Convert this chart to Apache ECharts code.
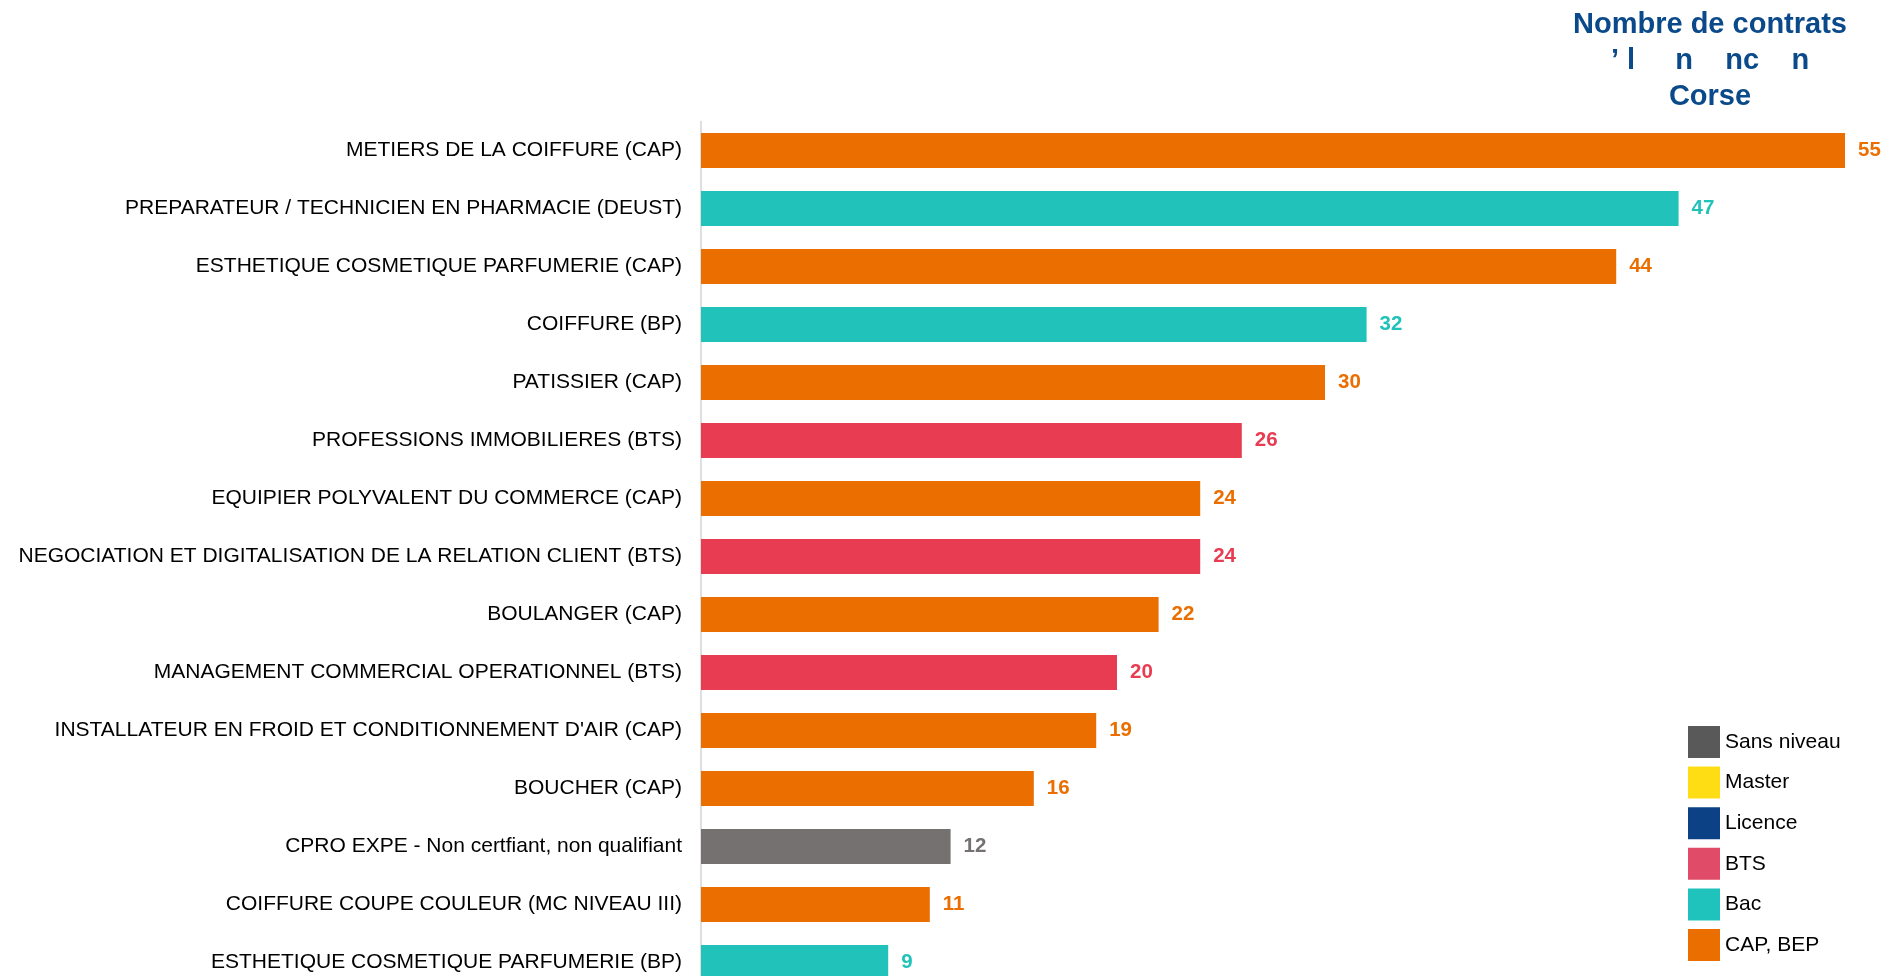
<!DOCTYPE html>
<html>
<head>
<meta charset="utf-8">
<script src="https://cdn.jsdelivr.net/npm/echarts@6/dist/echarts.min.js"></script>
<style>
  html, body { margin: 0; padding: 0; background: #fff; overflow: hidden; height: 976px; }
  #chart { width: 1885px; height: 992px; }
</style>
</head>
<body>
<div id="chart"></div>
<script>
// ---- Data ----
var categories = [
  "METIERS DE LA COIFFURE (CAP)",
  "PREPARATEUR / TECHNICIEN EN PHARMACIE (DEUST)",
  "ESTHETIQUE COSMETIQUE PARFUMERIE (CAP)",
  "COIFFURE (BP)",
  "PATISSIER (CAP)",
  "PROFESSIONS IMMOBILIERES (BTS)",
  "EQUIPIER POLYVALENT DU COMMERCE (CAP)",
  "NEGOCIATION ET DIGITALISATION DE LA RELATION CLIENT (BTS)",
  "BOULANGER (CAP)",
  "MANAGEMENT COMMERCIAL OPERATIONNEL (BTS)",
  "INSTALLATEUR EN FROID ET CONDITIONNEMENT D'AIR (CAP)",
  "BOUCHER (CAP)",
  "CPRO EXPE - Non certfiant, non qualifiant",
  "COIFFURE COUPE COULEUR (MC NIVEAU III)",
  "ESTHETIQUE COSMETIQUE PARFUMERIE (BP)"
];
var values = [55, 47, 44, 32, 30, 26, 24, 24, 22, 20, 19, 16, 12, 11, 9];
var levels = ["CAP, BEP", "Bac", "CAP, BEP", "Bac", "CAP, BEP", "BTS", "CAP, BEP", "BTS",
              "CAP, BEP", "BTS", "CAP, BEP", "CAP, BEP", "Sans niveau", "CAP, BEP", "Bac"];
var legendNames = ["Sans niveau", "Master", "Licence", "BTS", "Bac", "CAP, BEP"];
var titleLines = ["Nombre de contrats", "\u2019 l     n    nc    n", "Corse"];

// ---- Styles ----
var barColors = {
  "Sans niveau": "#767171", "Master": "#FFDD15", "Licence": "#0C4285",
  "BTS": "#E83C52", "Bac": "#20C2BA", "CAP, BEP": "#EB6E00"
};
var legendColors = {
  "Sans niveau": "#595959", "Master": "#FFDD15", "Licence": "#0C4285",
  "BTS": "#E04C67", "Bac": "#20C3BB", "CAP, BEP": "#EB6E00"
};
var FONT = "'Liberation Sans', Arial, sans-serif";

var series = legendNames.map(function (lv) {
  return {
    name: lv,
    type: 'bar',
    barWidth: 35,
    barGap: '-100%',
    itemStyle: { color: barColors[lv] },
    label: {
      show: true, position: 'right', distance: 13,
      color: barColors[lv], fontFamily: FONT, fontSize: 20.5, fontWeight: 'bold'
    },
    data: values.map(function (v, i) { return levels[i] === lv ? v : '-'; })
  };
});

var chart = echarts.init(document.getElementById('chart'));
chart.setOption({
  animation: false,
  backgroundColor: '#ffffff',
  grid: { left: 701, top: 121.5, width: 1144, height: 870, containLabel: false },
  xAxis: { type: 'value', min: 0, max: 55, show: false },
  yAxis: {
    type: 'category', data: categories, inverse: true,
    axisLine: { show: true, lineStyle: { color: '#D4D4D4', width: 1.5 } },
    axisTick: { show: false },
    axisLabel: { margin: 19, color: '#000', fontFamily: FONT, fontSize: 21 }
  },
  legend: {
    orient: 'vertical', left: 1688, top: 726, padding: 0,
    itemWidth: 32, itemHeight: 32, itemGap: 8.6,
    icon: 'rect',
    textStyle: { color: '#000', fontFamily: FONT, fontSize: 21 },
    data: legendNames.map(function (n) { return { name: n, itemStyle: { color: legendColors[n] } }; })
  },
  graphic: [{
    type: 'text', x: 1710, y: 7,
    style: {
      text: titleLines.join('\n'), textAlign: 'center', textVerticalAlign: 'top',
      fill: '#0B4A8A', font: "bold 29px 'Liberation Sans', Arial, sans-serif", lineHeight: 36
    }
  }],
  series: series
});
</script>
</body>
</html>
